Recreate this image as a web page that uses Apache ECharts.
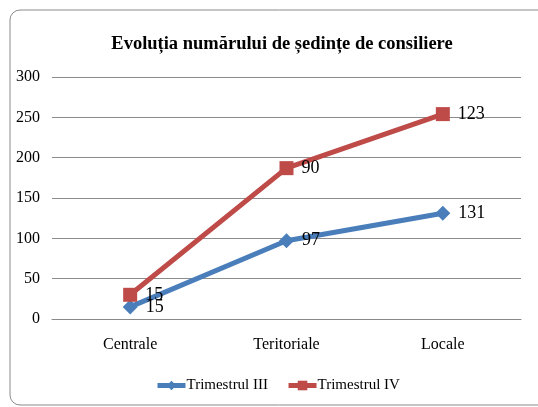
<!DOCTYPE html>
<html>
<head>
<meta charset="utf-8">
<script src="https://cdn.jsdelivr.net/npm/echarts@6/dist/echarts.min.js"></script>
<style>
  body { margin: 0; background: #fff; }
  #chart { width: 538px; height: 407px; }
</style>
</head>
<body>
<div id="chart"></div>
<script>
  var categories = ['Centrale', 'Teritoriale', 'Locale'];
  var trimIII = [15, 97, 131];
  var trimIV = [15, 90, 123];   // stacked on top of Trimestrul III
  var yTicks = [0, 50, 100, 150, 200, 250, 300];

  var font = '"Liberation Serif", "Times New Roman", serif';
  var chart = echarts.init(document.getElementById('chart'));
  chart.setOption({
    animation: false,
    textStyle: { fontFamily: font },
    graphic: [{
      type: 'rect',
      shape: { x: 10, y: 10, width: 560, height: 395, r: 10 },
      style: { fill: 'none', stroke: '#8a8a8a', lineWidth: 1 },
      z: -1
    }],
    title: {
      text: 'Evoluția numărului de ședințe de consiliere',
      left: 277, top: 30, textAlign: 'center',
      textStyle: { fontFamily: font, fontSize: 18.5, fontWeight: 'bold', color: '#000' }
    },
    legend: {
      top: 373, left: 150,
      itemWidth: 28, itemHeight: 12, itemGap: 18,
      lineStyle: { width: 5 },
      textStyle: { fontFamily: font, fontSize: 15, color: '#000', padding: [0, 0, 0, -4] },
      data: ['Trimestrul III', 'Trimestrul IV']
    },
    grid: { left: 52, right: 17, top: 77, bottom: 88 },
    xAxis: {
      type: 'category',
      data: categories,
      axisLine: { lineStyle: { color: '#888' } },
      axisTick: { show: false },
      axisLabel: { fontFamily: font, fontSize: 16, color: '#000', margin: 18 }
    },
    yAxis: {
      type: 'value',
      min: yTicks[0], max: yTicks[yTicks.length - 1], interval: 50,
      axisLine: { show: false },
      axisTick: { show: false },
      splitLine: { lineStyle: { color: '#8c8c8c' } },
      axisLabel: { fontFamily: font, fontSize: 16, color: '#000', margin: 12 }
    },
    series: [{
      name: 'Trimestrul III',
      type: 'line',
      stack: 'total',
      data: trimIII,
      symbol: 'diamond',
      symbolSize: 15,
      color: '#4a7ebb',
      lineStyle: { width: 5 },
      label: {
        show: true, position: 'right', distance: 8,
        fontFamily: font, fontSize: 18, color: '#000'
      }
    }, {
      name: 'Trimestrul IV',
      type: 'line',
      stack: 'total',
      data: trimIV,
      symbol: 'rect',
      symbolSize: 14,
      color: '#be4b48',
      lineStyle: { width: 5 },
      label: {
        show: true, position: 'right', distance: 8,
        fontFamily: font, fontSize: 18, color: '#000'
      }
    }]
  });
</script>
</body>
</html>
